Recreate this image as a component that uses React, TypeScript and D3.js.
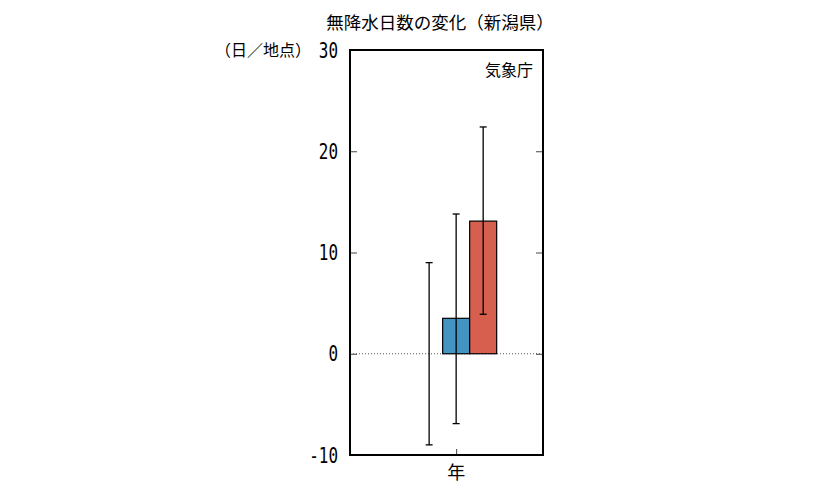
import * as d3 from "d3";
import React, { useRef, useEffect } from "react";

const categories = ["年"];
const seriesNames = ["基準", "2℃上昇", "4℃上昇"];
const seriesValues = [0, 3.5, 13.1];
const errLow = [-9.0, -6.9, 3.9];
const errHigh = [9.0, 13.8, 22.4];
const seriesColors = ["#999999", "#4393c3", "#d6604d"];
const yTicks = [-10, 0, 10, 20, 30];

const W = 833;
const H = 498;
const plot = { left: 350, right: 543, top: 50, bottom: 455 };
const jpFont = "'Noto Sans CJK JP', sans-serif";
const numFont = "'DejaVu Sans Mono', monospace";

const App = () => {
	const axisRef = useRef(null);

	const yScale = d3.scaleLinear().domain([-10, 30]).range([plot.bottom, plot.top]);
	// category band: centre of the 3-bar group sits left of the frame centre
	const xScale = d3.scaleLinear().domain([-0.55, 0.45]).range([plot.left, plot.right]);
	const barW = 0.14;
	const barX = (i: number) => xScale(0) + (i - 1) * (xScale(barW) - xScale(0));
	const bw = xScale(barW) - xScale(0);

	useEffect(() => {
		if (!axisRef.current) return;
		const g = d3.select(axisRef.current);
		g.selectAll("*").remove();

		g.append("g")
			.attr("transform", `translate(${plot.left},0)`)
			.call(d3.axisRight(yScale).tickValues(yTicks).tickSize(7).tickFormat(() => ""))
			.call((s: any) => s.select(".domain").remove());
		g.append("g")
			.attr("transform", `translate(${plot.right},0)`)
			.call(d3.axisLeft(yScale).tickValues(yTicks).tickSize(7).tickFormat(() => ""))
			.call((s: any) => s.select(".domain").remove());
		g.append("g")
			.attr("transform", `translate(0,${plot.bottom})`)
			.call(
				d3.axisTop(xScale).tickValues([0]).tickSize(6).tickFormat(() => "")
			)
			.call((s: any) => s.select(".domain").remove());
		g.selectAll(".tick line").attr("stroke", "#444").attr("stroke-width", 1);
	}, []);

	return (
		<svg
			width={W}
			height={H}
			style={{ position: "absolute", left: 0, top: 0, background: "white" }}>
			<text
				x={440}
				y={29}
				textAnchor="middle"
				fontFamily={jpFont}
				fontSize={17.5}
				fill="#000">
				無降水日数の変化（新潟県）
			</text>
			<text x={215} y={56} fontFamily={jpFont} fontSize={16} fill="#000">
				（日／地点）
			</text>
			{yTicks.map((t) => (
				<text
					key={t}
					transform={`translate(338,${yScale(t) + 7.5}) scale(0.76,1)`}
					textAnchor="end"
					fontFamily={numFont}
					fontSize={21}
					fill="#000">
					{t}
				</text>
			))}
			<line
				x1={plot.left}
				x2={plot.right}
				y1={yScale(0)}
				y2={yScale(0)}
				stroke="#555"
				strokeWidth={1}
				strokeDasharray="1,2"
			/>
			{seriesValues.map((v, i) => (
				<rect
					key={seriesNames[i]}
					x={barX(i) - bw / 2}
					y={yScale(Math.max(v, 0))}
					width={bw}
					height={Math.abs(yScale(v) - yScale(0))}
					fill={seriesColors[i]}
					stroke="#000"
					strokeWidth={v === 0 ? 0 : 1.2}
				/>
			))}
			{seriesValues.map((v, i) => (
				<g key={"err" + i} stroke="#000" strokeWidth={1.3}>
					<line x1={barX(i)} x2={barX(i)} y1={yScale(errLow[i])} y2={yScale(errHigh[i])} />
					<line x1={barX(i) - 3.5} x2={barX(i) + 3.5} y1={yScale(errLow[i])} y2={yScale(errLow[i])} />
					<line x1={barX(i) - 3.5} x2={barX(i) + 3.5} y1={yScale(errHigh[i])} y2={yScale(errHigh[i])} />
				</g>
			))}
			<g ref={axisRef} />
			<rect
				x={plot.left}
				y={plot.top}
				width={plot.right - plot.left}
				height={plot.bottom - plot.top}
				fill="none"
				stroke="#000"
				strokeWidth={2}
			/>
			<text x={533} y={76} textAnchor="end" fontFamily={jpFont} fontSize={16} fill="#000">
				気象庁
			</text>
			{categories.map((c) => (
				<text
					key={c}
					x={xScale(0)}
					y={479}
					textAnchor="middle"
					fontFamily={jpFont}
					fontSize={18}
					fill="#000">
					{c}
				</text>
			))}
		</svg>
	);
};

export default App;
